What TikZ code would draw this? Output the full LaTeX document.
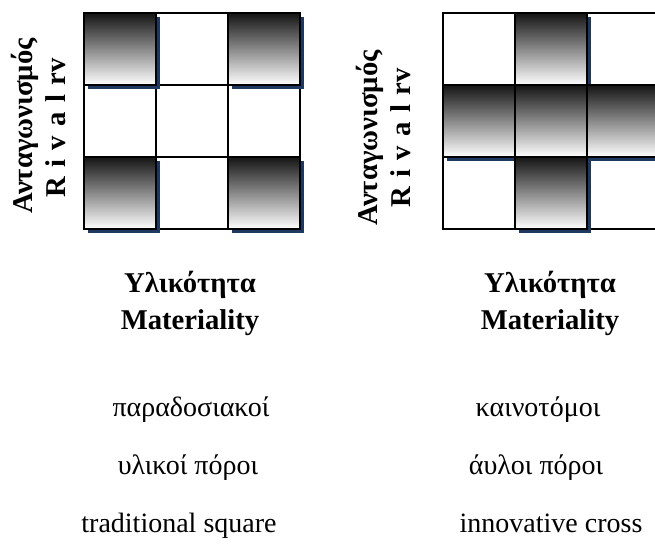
\documentclass[tikz,border=0pt]{standalone}
\usepackage{fontspec}
\setmainfont{Liberation Serif}
\usetikzlibrary{positioning,shadows}
\definecolor{shadowblue}{RGB}{31,56,96}
\newcommand{\gap}{\hspace{.33em}}

\begin{document}
\begin{tikzpicture}[x=0.75pt,y=-0.75pt,node distance=0pt,
		cell/.style={draw,line width=1.5pt,minimum size=54pt,inner sep=0pt,outer sep=0pt},
		dark/.style={cell,top color=black!92,bottom color=white,
			drop shadow={shadow xshift=3pt,shadow yshift=-3pt,fill=shadowblue,opacity=1}},
		head/.style={font=\fontsize{21.5}{24}\selectfont\bfseries,inner sep=0pt},
		note/.style={font=\fontsize{21}{24}\selectfont,inner sep=0pt}]
			\clip (0,0) rectangle (655,543);
			% left grid: traditional square
			\node[cell] (l_11) at (120,49) {};
			\node[cell] [right=of l_11] (l_12) {};
			\node[cell] [right=of l_12] (l_13) {};
			\node[cell] [below=of l_11] (l_21) {};
			\node[cell] [right=of l_21] (l_22) {};
			\node[cell] [right=of l_22] (l_23) {};
			\node[cell] [below=of l_21] (l_31) {};
			\node[cell] [right=of l_31] (l_32) {};
			\node[cell] [right=of l_32] (l_33) {};
			\node[dark] (ls_11) at (l_11) {};
			\node[dark] (ls_13) at (l_13) {};
			\node[dark] (ls_31) at (l_31) {};
			\node[dark] (ls_33) at (l_33) {};
			% right grid: innovative cross
			\node[cell] (r_11) at (479,49) {};
			\node[cell] [right=of r_11] (r_12) {};
			\node[cell] [right=of r_12] (r_13) {};
			\node[cell] [below=of r_11] (r_21) {};
			\node[cell] [right=of r_21] (r_22) {};
			\node[cell] [right=of r_22] (r_23) {};
			\node[cell] [below=of r_21] (r_31) {};
			\node[cell] [right=of r_31] (r_32) {};
			\node[cell] [right=of r_32] (r_33) {};
			\node[dark] (rs_12) at (r_12) {};
			\node[dark] (rs_21) at (r_21) {};
			\node[dark] (rs_22) at (r_22) {};
			\node[dark] (rs_23) at (r_23) {};
			\node[dark] (rs_32) at (r_32) {};
			% axis labels
			\node[head,rotate=90] (rival_gr_l) at (25,126) {Ανταγωνισμός};
			\node[head,rotate=90] (rival_en_l) at (56,128) {R\gap i\gap v\gap a\gap l\gap rv};
			\node[head,rotate=90] (rival_gr_r) at (370,138) {Ανταγωνισμός};
			\node[head,rotate=90] (rival_en_r) at (401,138) {R\gap i\gap v\gap a\gap l\gap rv};
			\node[head,anchor=base] (mat_gr_l) at (190,292) {Υλικότητα};
			\node[head,anchor=base] (mat_en_l) at (190,329) {Materiality};
			\node[head,anchor=base] (mat_gr_r) at (550,292) {Υλικότητα};
			\node[head,anchor=base] (mat_en_r) at (550,329) {Materiality};
			% captions
			\node[note,anchor=base] (trad_1) at (191,416) {παραδοσιακοί};
			\node[note,anchor=base] (trad_2) at (188,474) {υλικοί πόροι};
			\node[note,anchor=base] (trad_3) at (179,532) {traditional square};
			\node[note,anchor=base] (inno_1) at (538,416) {καινοτόμοι};
			\node[note,anchor=base] (inno_2) at (536,474) {άυλοι πόροι};
			\node[note,anchor=base] (inno_3) at (551,532) {innovative cross};
		\end{tikzpicture}
\end{document}
